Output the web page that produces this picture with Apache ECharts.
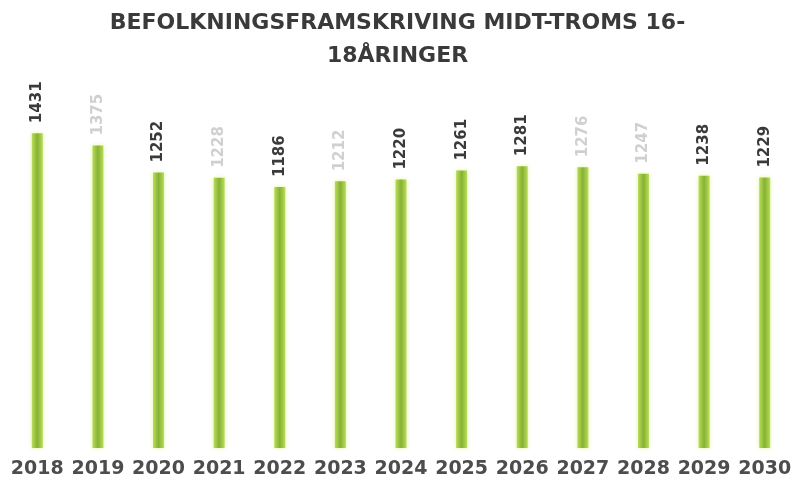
<!DOCTYPE html>
<html>
<head>
<meta charset="utf-8">
<script src="https://cdn.jsdelivr.net/npm/echarts@6/dist/echarts.min.js"></script>
<style>
  html, body { margin: 0; padding: 0; background: #fff; }
  #main { width: 795px; height: 479px; }
</style>
</head>
<body>
<div id="main"></div>
<script>
// år og antall 16-18 åringer
var years = ['2018', '2019', '2020', '2021', '2022', '2023', '2024', '2025', '2026', '2027', '2028', '2029', '2030'];
var values = [1431, 1375, 1252, 1228, 1186, 1212, 1220, 1261, 1281, 1276, 1247, 1238, 1229];
// noen etiketter er nesten usynlige i originalen
var faint = [false, true, false, true, false, true, false, false, false, true, true, false, false];

var chart = echarts.init(document.getElementById('main'));

var data = values.map(function (v, i) {
  return {
    value: v,
    label: { color: faint[i] ? '#d0d0d0' : '#3a3a3a' }
  };
});

var option = {
  backgroundColor: '#fff',
  title: {
    text: 'BEFOLKNINGSFRAMSKRIVING MIDT-TROMS 16-\n18ÅRINGER',
    left: 'center',
    top: 2,
    textStyle: {
      fontFamily: 'DejaVu Sans',
      fontWeight: 'bold',
      fontSize: 22,
      lineHeight: 33,
      color: '#3a3a3a'
    }
  },
  grid: {
    left: 7,
    right: -4,
    top: 118,
    bottom: 31
  },
  xAxis: {
    type: 'category',
    data: years,
    axisLine: { show: false },
    axisTick: { show: false },
    axisLabel: {
      interval: 0,
      margin: 12,
      fontFamily: 'DejaVu Sans',
      fontWeight: 'bold',
      fontSize: 19,
      color: '#4d4d4d'
    }
  },
  yAxis: {
    type: 'value',
    min: 0,
    max: 1500,
    show: false,
    splitLine: { show: false }
  },
  series: [{
    type: 'bar',
    data: data,
    barWidth: 11,
    itemStyle: {
      color: new echarts.graphic.LinearGradient(0, 0, 1, 0, [
        { offset: 0, color: '#b9dc5c' },
        { offset: 0.5, color: '#86b232' },
        { offset: 1, color: '#b9dc5c' }
      ]),
      shadowColor: 'rgba(200,235,60,0.5)',
      shadowBlur: 4
    },
    label: {
      show: true,
      position: 'top',
      rotate: 90,
      align: 'left',
      verticalAlign: 'middle',
      distance: 10,
      fontFamily: 'DejaVu Sans',
      fontWeight: 'bold',
      fontSize: 15
    }
  }]
};

chart.setOption(option);
</script>
</body>
</html>
